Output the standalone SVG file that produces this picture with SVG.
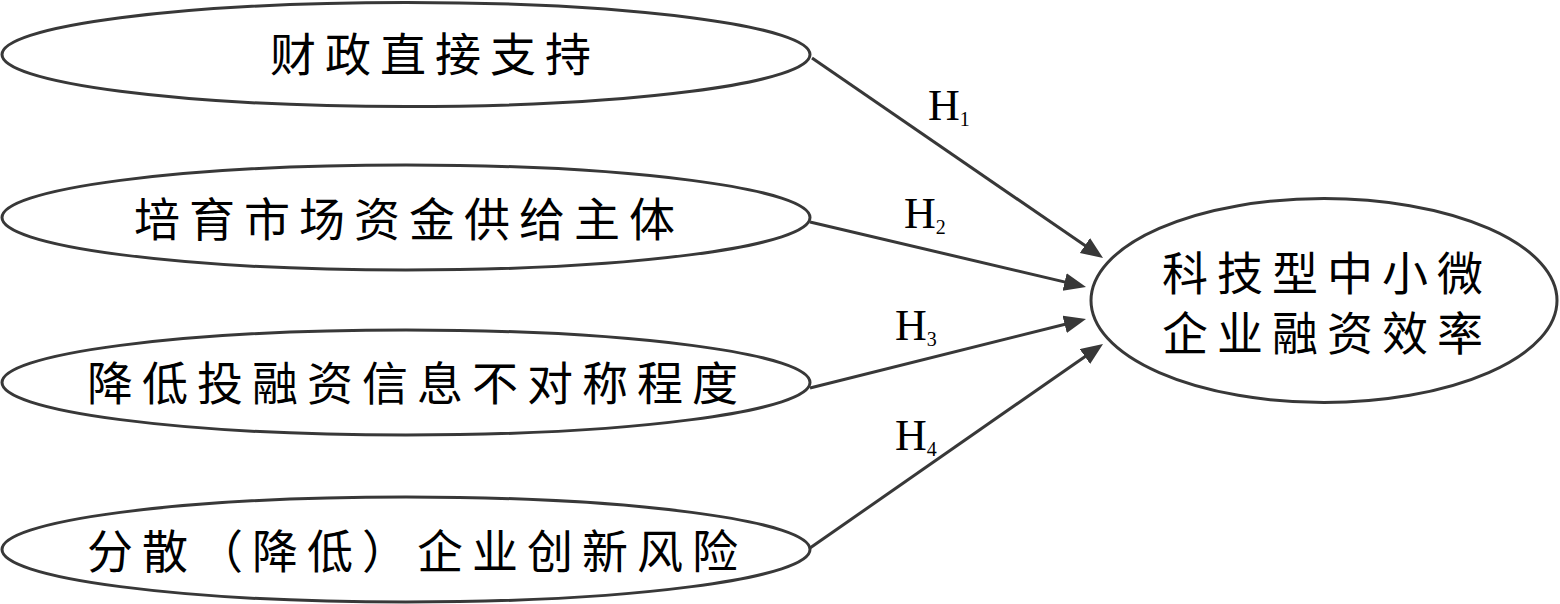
<svg xmlns="http://www.w3.org/2000/svg" width="1560" height="604" viewBox="0 0 1560 604">
<style>
.node ellipse{fill:#fff;stroke:#383838;stroke-width:3}
.cjk{font-family:"Noto Sans CJK SC","Noto Sans",sans-serif;font-size:46px;fill:#000;letter-spacing:9px}
.conn line{stroke:#383838;stroke-width:3}
.h{font-family:"Liberation Serif",serif;font-size:44px;fill:#000}
.sub{font-size:20px}
</style>
<defs>
<marker id="arr" markerUnits="userSpaceOnUse" markerWidth="24" markerHeight="20" refX="16" refY="9" orient="auto">
<path d="M0,0 L22,9 L0,18 z" fill="#383838"/>
</marker>
</defs>
<rect width="1560" height="604" fill="#fff"/>
<g id="n1" class="node"><ellipse cx="406" cy="54.5" rx="404" ry="52"/><text class="cjk" x="270" y="71">财政直接支持</text></g>
<g id="n2" class="node"><ellipse cx="406" cy="217.5" rx="404" ry="52.5"/><text class="cjk" x="134" y="236">培育市场资金供给主体</text></g>
<g id="n3" class="node"><ellipse cx="406" cy="382.5" rx="404" ry="52.5"/><text class="cjk" x="87" y="400">降低投融资信息不对称程度</text></g>
<g id="n4" class="node"><ellipse cx="406" cy="549.5" rx="404" ry="52.5"/><text class="cjk" x="87" y="568">分散（降低）企业创新风险</text></g>
<g id="n5" class="node"><ellipse cx="1324" cy="300.5" rx="233" ry="102"/><text class="cjk" x="1162" y="290">科技型中小微</text><text class="cjk" x="1162" y="350">企业融资效率</text></g>
<g id="connectors" class="conn">
<line x1="812" y1="58" x2="1098.1" y2="254.6" marker-end="url(#arr)"/>
<line x1="810" y1="222" x2="1080.2" y2="285.6" marker-end="url(#arr)"/>
<line x1="810" y1="388" x2="1080.2" y2="320.5" marker-end="url(#arr)"/>
<line x1="810" y1="548" x2="1098.1" y2="347.4" marker-end="url(#arr)"/>
<text class="h" x="928" y="120">H<tspan class="sub" dy="6">1</tspan></text>
<text class="h" x="904" y="228">H<tspan class="sub" dy="6">2</tspan></text>
<text class="h" x="895" y="340">H<tspan class="sub" dy="6">3</tspan></text>
<text class="h" x="895" y="450">H<tspan class="sub" dy="6">4</tspan></text>
</g>
</svg>
